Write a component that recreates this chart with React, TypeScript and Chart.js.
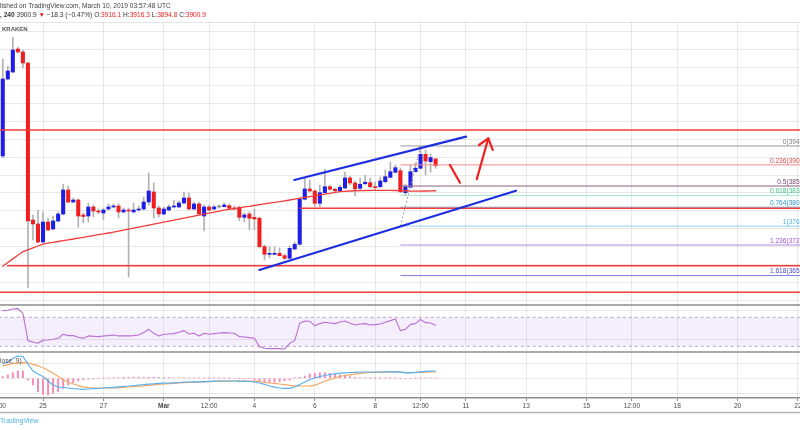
import React, { useEffect, useRef } from "react";
import { Chart, registerables } from "chart.js";

Chart.register(...registerables);

const FONT = '"Liberation Sans", Arial, sans-serif';
const GRID = "rgba(0,0,0,0.085)";
const UP = "#1e1ee6";
const DOWN = "#f01e1e";
const FLAT = "#8c8c8c";
const WICK = "#b2b2b2";

// ---------- time (hours relative to Mar 1 2019 00:00 UTC) ----------
const FIRST_CANDLE_HOUR = -128; // Feb 23 16:00
const CANDLE_HOURS = 4;
const X_MIN = -130.2;
const X_MAX = 505.6;
const timeTickHours = [-132, -96, -48, 0, 36, 72, 120, 168, 204, 240, 288, 336, 372, 408, 456, 504];
const timeTickLabels = ["12:00", "25", "27", "Mar", "12:00", "4", "6", "8", "12:00", "11", "13", "15", "12:00", "18", "20", "22"];

// ---------- price pane ----------
const PRICE_MIN = 3589.6;
const PRICE_MAX = 4222.1;
const priceGrid = [3600, 3640, 3680, 3720, 3760, 3800, 3840, 3880, 3920, 3960, 4000, 4040, 4080, 4120, 4160, 4200];

const opens = [
  3922.6, 4094.7, 4110.4, 4161.8, 4155.1, 4130.5, 3779.6, 3770.7, 3730.4, 3775.1,
  3759.5, 3777.4, 3793.0, 3846.7, 3819.8, 3824.3, 3790.8, 3788.5, 3808.7, 3799.7,
  3795.3, 3804.2, 3808.7, 3810.9, 3797.5, 3801.9, 3797.5, 3801.9, 3804.2, 3819.8,
  3842.2, 3806.4, 3793.0, 3801.9, 3808.7, 3808.7, 3817.6, 3828.8, 3804.2, 3815.4,
  3788.5, 3808.7, 3804.2, 3808.7, 3809.3, 3811.6, 3806.4, 3808.0, 3785.6, 3793.0,
  3785.6, 3783.4, 3719.9, 3702.9, 3702.9, 3705.2, 3699.8, 3694.0, 3714.8, 3725.3,
  3825.9, 3848.9, 3844.4, 3816.9, 3840.6, 3854.0, 3848.2, 3845.1, 3851.1, 3873.5,
  3862.3, 3850.4, 3860.7, 3863.0, 3854.0, 3854.0, 3865.2, 3875.0, 3886.2, 3889.8,
  3840.6, 3852.7, 3887.5, 3895.2, 3926.4, 3909.9, 3916.1,
];
const highs = [
  4139.4, 4123.8, 4188.0, 4166.3, 4159.6, 4132.7, 3790.8, 3801.9, 3797.5, 3784.1,
  3788.5, 3797.5, 3860.1, 3855.6, 3828.8, 3826.6, 3795.3, 3817.6, 3813.1, 3804.2,
  3806.4, 3815.4, 3815.4, 3815.4, 3806.4, 3806.4, 3817.6, 3810.9, 3831.0, 3884.6,
  3862.3, 3810.9, 3808.7, 3813.1, 3824.3, 3822.1, 3842.2, 3839.9, 3819.8, 3819.8,
  3813.1, 3813.1, 3813.1, 3813.1, 3817.6, 3815.4, 3810.9, 3810.9, 3795.3, 3797.5,
  3804.2, 3786.3, 3723.7, 3719.9, 3719.9, 3717.0, 3703.6, 3721.5, 3730.4, 3831.0,
  3873.5, 3869.0, 3846.7, 3857.8, 3892.9, 3857.8, 3851.1, 3857.8, 3886.9, 3877.9,
  3866.8, 3873.5, 3880.2, 3873.5, 3864.6, 3875.7, 3891.4, 3909.2, 3902.5, 3895.8,
  3860.1, 3902.5, 3907.0, 3945.0, 3936.1, 3927.1, 3916.3,
];
const lows = [
  3918.2, 4092.5, 4108.1, 4152.8, 4119.3, 3627.6, 3734.9, 3728.2, 3728.2, 3755.0,
  3757.3, 3775.1, 3790.8, 3817.6, 3817.6, 3764.0, 3772.9, 3775.1, 3786.3, 3793.0,
  3779.6, 3801.9, 3806.4, 3784.1, 3795.3, 3652.2, 3795.3, 3799.7, 3801.9, 3813.1,
  3784.1, 3786.3, 3790.8, 3799.7, 3806.4, 3806.4, 3815.4, 3801.9, 3801.9, 3790.8,
  3755.0, 3799.7, 3801.9, 3806.4, 3808.7, 3804.2, 3801.9, 3778.1, 3775.1, 3757.3,
  3757.3, 3717.0, 3690.2, 3694.7, 3701.4, 3699.1, 3690.2, 3692.4, 3712.5, 3723.7,
  3824.3, 3842.2, 3809.3, 3809.3, 3839.9, 3846.7, 3842.2, 3843.3, 3848.9, 3857.8,
  3833.2, 3846.7, 3857.8, 3851.1, 3846.7, 3851.1, 3862.3, 3873.5, 3884.6, 3839.9,
  3833.2, 3851.1, 3886.9, 3893.6, 3880.2, 3886.9, 3894.8,
];
const closes = [
  4094.7, 4112.6, 4159.6, 4155.1, 4130.5, 3777.4, 3770.7, 3730.4, 3775.1, 3757.3,
  3777.4, 3793.0, 3846.7, 3819.8, 3824.3, 3788.5, 3787.4, 3808.7, 3799.7, 3797.5,
  3801.9, 3808.7, 3810.9, 3797.5, 3801.9, 3799.7, 3801.9, 3804.2, 3819.8, 3844.4,
  3806.4, 3793.0, 3804.2, 3808.7, 3809.8, 3817.6, 3828.8, 3804.2, 3815.4, 3793.0,
  3808.7, 3801.9, 3808.7, 3808.7, 3813.1, 3805.7, 3804.2, 3785.6, 3790.8, 3783.4,
  3781.9, 3719.9, 3702.9, 3703.6, 3705.2, 3699.8, 3694.0, 3716.3, 3725.3, 3825.9,
  3848.9, 3844.4, 3816.9, 3840.6, 3854.0, 3848.2, 3845.1, 3852.7, 3873.5, 3862.3,
  3848.9, 3859.4, 3863.9, 3854.0, 3851.8, 3866.8, 3876.4, 3887.5, 3896.5, 3842.9,
  3854.0, 3887.5, 3895.2, 3926.4, 3911.5, 3919.2, 3900.9,
];
const movingAverage = [
  3676.1, 3684.4, 3692.7, 3700.9, 3708.7, 3713.0, 3717.2, 3721.5, 3725.7, 3727.7,
  3729.5, 3731.5, 3733.3, 3735.3, 3737.1, 3739.1, 3740.9, 3742.9, 3744.7, 3746.7,
  3748.5, 3750.5, 3752.6, 3754.8, 3757.0, 3759.3, 3761.5, 3763.8, 3766.0, 3768.2,
  3770.4, 3772.5, 3774.9, 3777.1, 3779.2, 3781.4, 3783.6, 3785.9, 3788.1, 3790.3,
  3792.6, 3794.8, 3797.1, 3799.3, 3801.5, 3803.3, 3805.1, 3806.9, 3808.7, 3810.2,
  3812.0, 3813.8, 3815.6, 3817.4, 3819.2, 3820.7, 3822.5, 3824.3, 3826.1, 3827.9,
  3829.9, 3831.9, 3833.7, 3835.5, 3837.3, 3839.3, 3841.1, 3842.9, 3843.7, 3844.4,
  3844.9, 3845.3, 3845.5, 3845.8, 3846.0, 3846.0, 3846.0, 3845.8, 3845.5, 3845.3,
  3844.9, 3844.4, 3844.2, 3844.2, 3844.4, 3844.6, 3844.9,
];

// user drawings: [hour, price]
const horizontalLevels = [3980.8, 3805.7, 3677.5, 3618.0];
const horizontalStarts = [-140, 108, -124.6, -140];
const channelUpper = [[103.7, 3869.0], [240.2, 3965.8]];
const channelLower = [[75.9, 3667.9], [279.9, 3845.1]];
const redStroke = [[227.4, 3902.5], [235.4, 3863.0]];
const arrowShaft = [[248.7, 3870.6], [257.9, 3962.2]];
const arrowHead = [[250.5, 3947.2], [257.9, 3962.2], [261.4, 3936.1]];

// fibonacci retracement
const fibStartHour = 188;
const fibHighHour = 204;
const fibHigh = 3945.0;
const fibLow = 3766.0;
const fibRatios = [0, 0.236, 0.5, 0.618, 0.764, 1, 1.236, 1.618];
const fibLineColors = ["#9a9a9a", "#f08c8c", "#8c5f82", "#a6ead0", "#6bb3e0", "#8ccfee", "#b88ae3", "#7b7be0"];
const fibTextColors = ["#858585", "#e24a4a", "#7a4a70", "#3cc489", "#2f94d0", "#56b8e6", "#a050d8", "#4b4bd0"];

// ---------- RSI pane ----------
const RSI_MIN = 22.1;
const RSI_MAX = 87.0;
const rsiGrid = [40, 80];
const rsiBand = [70, 30];
const rsiValues = [
  79.2, 79.7, 81.5, 82.0, 75.5, 37.8, 36.0, 34.1, 38.3, 38.7,
  39.7, 41.0, 46.6, 44.7, 44.7, 42.4, 41.0, 44.3, 43.8, 43.3,
  44.3, 44.7, 45.6, 44.3, 44.3, 44.3, 44.7, 45.6, 48.9, 53.4,
  47.9, 44.3, 46.6, 47.0, 47.5, 49.3, 51.6, 47.0, 47.9, 44.3,
  47.9, 46.6, 47.5, 48.4, 48.9, 48.4, 47.9, 43.3, 42.9, 42.0,
  41.0, 29.5, 27.2, 26.8, 26.8, 26.8, 26.3, 34.1, 37.8, 61.7,
  64.9, 64.5, 58.5, 61.3, 63.1, 62.2, 61.3, 63.6, 64.9, 61.7,
  59.4, 60.8, 61.3, 59.4, 59.9, 60.8, 63.1, 65.4, 67.7, 51.6,
  53.4, 60.3, 61.3, 67.2, 62.6, 62.2, 59.0,
];

// ---------- MACD pane ----------
const MACD_MIN = -39.4;
const MACD_MAX = 52.6;
const macdGrid = [-30, 0, 30];
const macdValues = [
  28.6, 32.6, 39.6, 44.6, 43.6, 28.6, 14.6, 8.6, 3.6, -5.4,
  -13.4, -17.4, -18.4, -19.4, -20.8, -21.4, -22.0, -21.4, -20.8, -20.4,
  -19.4, -18.8, -18.0, -17.0, -16.0, -15.4, -14.4, -13.4, -12.8, -11.8,
  -11.0, -10.2, -9.8, -9.4, -9.0, -8.4, -7.8, -7.4, -7.2, -7.0,
  -6.6, -6.2, -5.6, -5.4, -5.4, -5.4, -5.4, -5.8, -6.0, -6.4,
  -7.2, -9.4, -12.0, -15.4, -17.8, -19.4, -20.2, -20.0, -17.4, -12.4,
  -7.4, -2.4, 0.6, 3.6, 5.6, 7.6, 9.0, 10.2, 11.0, 11.6,
  12.0, 12.6, 12.6, 12.6, 12.6, 12.6, 12.8, 13.0, 13.2, 12.2,
  10.8, 11.0, 12.0, 13.0, 13.8, 14.4, 14.6,
];
const signalValues = [
  25.0, 27.5, 29.5, 31.0, 31.5, 31.0, 28.0, 25.0, 21.0, 16.0,
  10.0, 4.0, -3.0, -8.0, -11.4, -14.5, -17.0, -18.6, -19.2, -19.4,
  -19.4, -19.4, -19.4, -19.0, -18.2, -17.4, -16.6, -15.8, -15.0, -14.0,
  -13.0, -12.0, -11.4, -10.8, -10.0, -9.4, -8.8, -8.2, -7.8, -7.4,
  -7.0, -6.6, -6.2, -5.8, -5.6, -5.4, -5.4, -5.4, -5.4, -5.4,
  -5.6, -6.4, -8.0, -9.4, -10.4, -11.4, -12.6, -14.0, -15.0, -15.4,
  -15.4, -15.0, -13.6, -10.0, -6.0, -2.6, 1.0, 3.6, 5.6, 7.0,
  8.4, 10.0, 10.8, 11.6, 12.0, 12.2, 12.4, 12.6, 12.6, 12.4,
  11.6, 11.4, 11.6, 12.0, 12.2, 12.6, 12.6,
];
const histogramValues = [
  3.3, 6.6, 11.3, 14.6, 14.6, -3.4, -13.4, -26.7, -32.0, -33.4,
  -30.0, -26.7, -20.0, -13.4, -8.7, -5.4, -3.4, -2.0, -1.4, -0.7,
  0.7, 1.0, 1.3, 1.6, 2.0, 2.0, 2.2, 2.4, 2.2, 2.2,
  2.0, 1.8, 1.6, 1.4, 1.2, 1.0, 1.0, 0.8, 0.8, 0.6,
  0.6, 0.5, 0.5, 0.4, 0.3, 0.2, 0.0, -0.3, -0.6, -1.0,
  -3.4, -4.7, -6.7, -8.7, -7.8, -6.7, -4.7, -3.4, 0.5, 2.0,
  4.6, 8.6, 10.0, 11.3, 11.3, 10.0, 8.6, 6.6, 4.6, 3.3,
  2.0, 1.3, 0.8, 0.5, 0.3, 0.2, 0.2, 0.3, 0.4, -0.3,
  -0.8, -0.6, 0.2, 0.6, 0.8, 0.8, 1.0,
];

// ---------- texts ----------
const symbolName = "BTCUSD";
const intervalText = "240";
const publishedText = "published on TradingView.com, March 10, 2019 03:57:48 UTC";
const exchangeText = "KRAKEN";
const macdTitle = "MACD (12, 26, close, 9)";
const footerText = "TradingView";

const candleHours = opens.map((_, i) => FIRST_CANDLE_HOUR + i * CANDLE_HOURS);
const pts = (arr: number[][]) => arr.map(([x, y]) => ({ x, y }));

function xAxis(showLabels: boolean) {
  return {
    type: "linear",
    min: X_MIN,
    max: X_MAX,
    offset: false,
    afterBuildTicks: (s: any) => {
      s.ticks = timeTickHours.map((v) => ({ value: v }));
    },
    afterFit: (s: any) => {
      s.paddingLeft = 0;
      s.paddingRight = 0;
      s.height = showLabels ? 14 : 0;
    },
    grid: { color: GRID, lineWidth: 1, offset: false, drawTicks: showLabels, tickLength: 3, tickColor: "#8c8c8c" },
    border: { display: showLabels, color: "#8c8c8c", width: 1.5 },
    ticks: {
      display: showLabels,
      autoSkip: false,
      maxRotation: 0,
      minRotation: 0,
      padding: 1.5,
      color: "#4a4a4a",
      font: (ctx: any) => ({ family: FONT, size: 6.6, weight: ctx.tick && ctx.tick.label === "Mar" ? "bold" : "normal" }),
      callback: (v: any) => {
        const k = timeTickHours.indexOf(Number(v));
        return k >= 0 ? timeTickLabels[k] : "";
      },
    },
  };
}

function yAxis(min: number, max: number, grid: number[]) {
  return {
    type: "linear",
    min,
    max,
    afterBuildTicks: (s: any) => {
      s.ticks = grid.map((v) => ({ value: v }));
    },
    afterFit: (s: any) => {
      s.width = 0;
    },
    grid: { color: GRID, lineWidth: 1, drawTicks: false },
    border: { display: false },
    ticks: { display: false },
  };
}

function baseOptions(scales: any, padding: any) {
  return {
    responsive: false,
    maintainAspectRatio: false,
    animation: false,
    events: [],
    layout: { padding },
    plugins: { legend: { display: false }, tooltip: { enabled: false }, title: { display: false } },
    scales,
  };
}

function lineDs(data: any[], color: string, width: number, order: number, extra: any = {}) {
  return {
    type: "line",
    data,
    borderColor: color,
    borderWidth: width,
    pointRadius: 0,
    pointHoverRadius: 0,
    fill: false,
    tension: 0,
    borderCapStyle: "round",
    borderJoinStyle: "round",
    order,
    ...extra,
  };
}

const signed = (v: number, digits: number) => (v < 0 ? "\u2212" : "") + Math.abs(v).toFixed(digits);

const mainPlugin = {
  id: "mainTexts",
  afterDraw(chart: any) {
    const { ctx, chartArea } = chart;
    const y = chart.scales.y;
    ctx.save();
    // pane top border
    ctx.strokeStyle = "rgba(0,0,0,0.1)";
    ctx.lineWidth = 1;
    ctx.beginPath();
    ctx.moveTo(0, chartArea.top + 0.5);
    ctx.lineTo(chart.width, chartArea.top + 0.5);
    ctx.stroke();

    // fib labels
    ctx.font = `6.6px ${FONT}`;
    ctx.textAlign = "right";
    ctx.textBaseline = "bottom";
    fibRatios.forEach((r, k) => {
      const price = fibHigh - r * (fibHigh - fibLow);
      ctx.fillStyle = fibTextColors[k];
      ctx.fillText(`${r}(${price.toFixed(1)})`, 811, y.getPixelForValue(price) - 0.8);
    });

    // header
    ctx.textAlign = "left";
    ctx.textBaseline = "middle";
    ctx.font = `6.6px ${FONT}`;
    ctx.fillStyle = "#3f3f3f";
    ctx.fillText(publishedText, -ctx.measureText("pub").width, 6);

    const n = closes.length - 1;
    const change = closes[n] - closes[n - 1];
    const pct = (change / closes[n - 1]) * 100;
    const segs = [
      { t: `${symbolName}, `, c: "#333", b: true },
      { t: intervalText, c: "#333", b: true },
      { t: ` ${closes[n].toFixed(1)} `, c: "#333", b: false },
      { t: "\u25BC", c: DOWN, b: false },
      { t: ` ${signed(change, 1)} (${signed(pct, 2)}%) `, c: "#333", b: false },
      { t: "O:", c: "#333", b: false },
      { t: opens[n].toFixed(1), c: DOWN, b: false },
      { t: " H:", c: "#333", b: false },
      { t: highs[n].toFixed(1), c: DOWN, b: false },
      { t: " L:", c: "#333", b: false },
      { t: lows[n].toFixed(1), c: DOWN, b: false },
      { t: " C:", c: "#333", b: false },
      { t: closes[n].toFixed(1), c: DOWN, b: false },
    ];
    ctx.font = `bold 6.6px ${FONT}`;
    let x = -ctx.measureText(symbolName).width;
    segs.forEach((s) => {
      ctx.font = `${s.b ? "bold " : ""}6.6px ${FONT}`;
      ctx.fillStyle = s.c;
      ctx.fillText(s.t, x, 15);
      x += ctx.measureText(s.t).width;
    });

    ctx.font = `bold 6px ${FONT}`;
    ctx.fillStyle = "#555";
    ctx.fillText(exchangeText, 2, 29.5);
    ctx.restore();
  },
};

const macdPlugin = {
  id: "macdTexts",
  afterDraw(chart: any) {
    const { ctx, chartArea } = chart;
    ctx.save();
    ctx.font = `6.6px ${FONT}`;
    ctx.textBaseline = "middle";
    ctx.fillStyle = "#555";
    ctx.fillText(macdTitle, -ctx.measureText("MACD (12, 26, c").width, 9);
    ctx.strokeStyle = "#b4b4b4";
    ctx.lineWidth = 1.5;
    ctx.beginPath();
    ctx.moveTo(0, chartArea.bottom + 14.5);
    ctx.lineTo(chart.width, chartArea.bottom + 14.5);
    ctx.stroke();
    ctx.font = `7px ${FONT}`;
    ctx.fillStyle = "#4fb0e6";
    ctx.fillText(footerText, 0, chartArea.bottom + 23);
    ctx.restore();
  },
};

function mainConfig(): any {
  const bodyColors = opens.map((o, i) => (closes[i] > o ? UP : closes[i] < o ? DOWN : FLAT));
  const datasets: any[] = [
    {
      type: "bar",
      data: candleHours.map((t, i) => ({ x: t, y: [lows[i], highs[i]] })),
      backgroundColor: WICK,
      barThickness: 1,
      grouped: false,
      order: 20,
    },
    {
      type: "bar",
      data: candleHours.map((t, i) => ({ x: t, y: [opens[i], closes[i]] })),
      backgroundColor: bodyColors,
      barThickness: 3.4,
      minBarLength: 1,
      grouped: false,
      order: 19,
    },
    lineDs(candleHours.map((t, i) => ({ x: t, y: movingAverage[i] })), "#f23b3b", 1.3, 18),
  ];
  fibRatios.forEach((r, k) => {
    const price = fibHigh - r * (fibHigh - fibLow);
    datasets.push(lineDs(pts([[fibStartHour, price], [X_MAX + 20, price]]), fibLineColors[k], 1, 15, { borderCapStyle: "butt" }));
  });
  datasets.push(
    lineDs(pts([[fibStartHour, fibLow], [fibHighHour, fibHigh]]), "#a0a0a0", 1, 14, { borderDash: [2, 2], borderCapStyle: "butt" })
  );
  horizontalLevels.forEach((p, k) => {
    datasets.push(lineDs(pts([[horizontalStarts[k], p], [X_MAX + 20, p]]), "#f53a3a", 1.5, 10, { borderCapStyle: "butt" }));
  });
  datasets.push(lineDs(pts(channelUpper), "#1f2de0", 2.2, 5));
  datasets.push(lineDs(pts(channelLower), "#1f2de0", 2.2, 5));
  datasets.push(lineDs(pts(redStroke), "#f01e1e", 2.2, 4));
  datasets.push(lineDs(pts(arrowShaft), "#f01e1e", 2.2, 4));
  datasets.push(lineDs(pts(arrowHead), "#f01e1e", 2.2, 4));

  return {
    type: "bar",
    data: { datasets },
    options: baseOptions({ x: xAxis(false), y: yAxis(PRICE_MIN, PRICE_MAX, priceGrid) }, { top: 22, left: 0, right: 0, bottom: 0 }),
    plugins: [mainPlugin],
  };
}

function rsiConfig(): any {
  const datasets: any[] = [
    lineDs(pts([[X_MIN - 20, rsiBand[0]], [X_MAX + 20, rsiBand[0]]]), "#b7a6c7", 1, 3, { borderDash: [3, 3], borderCapStyle: "butt" }),
    lineDs(pts([[X_MIN - 20, rsiBand[1]], [X_MAX + 20, rsiBand[1]]]), "#b7a6c7", 1, 2, {
      borderDash: [3, 3],
      borderCapStyle: "butt",
      fill: "-1",
      backgroundColor: "rgba(178,120,240,0.13)",
    }),
    lineDs(candleHours.map((t, i) => ({ x: t, y: rsiValues[i] })), "#b86fd3", 1.1, 0),
  ];
  return {
    type: "line",
    data: { datasets },
    options: baseOptions({ x: xAxis(false), y: yAxis(RSI_MIN, RSI_MAX, rsiGrid) }, 0),
  };
}

function macdConfig(): any {
  const datasets: any[] = [
    {
      type: "bar",
      data: candleHours.map((t, i) => ({ x: t, y: histogramValues[i] })),
      backgroundColor: "#f58bb6",
      barThickness: 1.3,
      grouped: false,
      order: 5,
    },
    lineDs(candleHours.map((t, i) => ({ x: t, y: signalValues[i] })), "#f6a661", 1.2, 2),
    lineDs(candleHours.map((t, i) => ({ x: t, y: macdValues[i] })), "#55b0f0", 1.2, 1),
  ];
  return {
    type: "bar",
    data: { datasets },
    options: baseOptions({ x: xAxis(true), y: yAxis(MACD_MIN, MACD_MAX, macdGrid) }, { top: 0, left: 0, right: 0, bottom: 18 }),
    plugins: [macdPlugin],
  };
}

export default function App() {
  const mainRef = useRef<HTMLCanvasElement>(null);
  const rsiRef = useRef<HTMLCanvasElement>(null);
  const macdRef = useRef<HTMLCanvasElement>(null);

  useEffect(() => {
    const charts = [
      new Chart(mainRef.current as HTMLCanvasElement, mainConfig()),
      new Chart(rsiRef.current as HTMLCanvasElement, rsiConfig()),
      new Chart(macdRef.current as HTMLCanvasElement, macdConfig()),
    ];
    return () => charts.forEach((c) => c.destroy());
  }, []);

  const abs = (top: number, height: number): React.CSSProperties => ({
    position: "absolute",
    left: 0,
    top,
    width: 800,
    height,
  });

  return (
    <div style={{ position: "fixed", left: 0, top: 0, width: 800, height: 430, background: "#fff", overflow: "hidden" }}>
      <canvas ref={mainRef} width={800} height={305} style={abs(0, 305)} />
      <canvas ref={rsiRef} width={800} height={47} style={abs(305, 47)} />
      <canvas ref={macdRef} width={800} height={78} style={abs(352, 78)} />
      <div style={{ ...abs(304, 1.5), background: "#a8a8a8" }} />
      <div style={{ ...abs(351.3, 1.5), background: "#ababab" }} />
    </div>
  );
}
